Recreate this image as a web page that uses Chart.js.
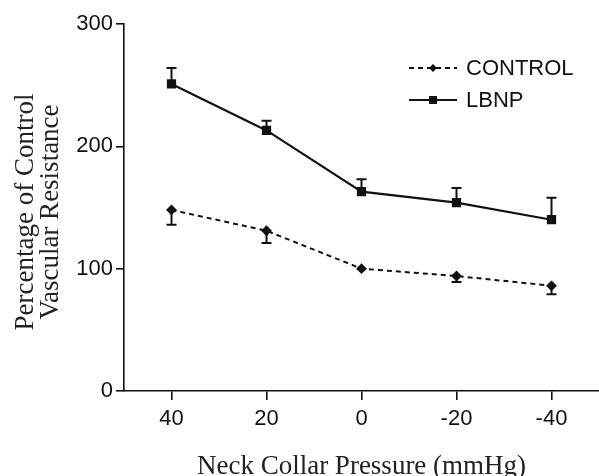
<!DOCTYPE html>
<html>
<head>
<meta charset="utf-8">
<script src="https://cdn.jsdelivr.net/npm/chart.js@4"></script>
<style>
  body { margin: 0; background: #fff; }
  #wrap { width: 599px; height: 476px; }
</style>
</head>
<body>
<div id="wrap"><canvas id="chart" width="599" height="476"></canvas></div>
<script>
// data
const pressures = ['40', '20', '0', '-20', '-40'];
const controlVals = [148, 131, 100, 94, 86];
const controlErr = [12, 10, 0, 5, 7];     // drawn downward
const lbnpVals = [251, 213, 163, 154, 140];
const lbnpErr = [13, 8, 10, 12, 18];      // drawn upward
const yTicks = [0, 100, 200, 300];
const yTitle = ['Percentage of Control', 'Vascular Resistance'];
const xTitle = 'Neck Collar Pressure (mmHg)';

const tickFont = { family: 'Liberation Sans, Arial, sans-serif', size: 22 };

// error bars (one-sided, like the original)
const errorBars = {
  id: 'errorBars',
  afterDatasetsDraw(chart) {
    const ctx = chart.ctx;
    const y = chart.scales.y;
    chart.data.datasets.forEach((ds, i) => {
      const meta = chart.getDatasetMeta(i);
      meta.data.forEach((pt, j) => {
        const e = ds.err[j];
        if (!e) return;
        const end = ds.errDir > 0 ? ds.data[j] + e : ds.data[j] - e;
        const py = y.getPixelForValue(end);
        ctx.save();
        ctx.strokeStyle = '#111';
        ctx.lineWidth = 2;
        ctx.beginPath();
        ctx.moveTo(pt.x, pt.y);
        ctx.lineTo(pt.x, py);
        ctx.moveTo(pt.x - 5, py);
        ctx.lineTo(pt.x + 5, py);
        ctx.stroke();
        ctx.restore();
      });
    });
  }
};

// legend inside the plot, top right
const legendBox = {
  id: 'legendBox',
  afterDraw(chart) {
    const ctx = chart.ctx;
    const x0 = 409, x1 = 457, tx = 466;
    const rows = [68, 100];
    chart.data.datasets.forEach((ds, i) => {
      const ly = rows[i];
      ctx.save();
      ctx.strokeStyle = '#111';
      ctx.lineWidth = ds.borderWidth;
      ctx.setLineDash(ds.borderDash || []);
      ctx.beginPath();
      ctx.moveTo(x0, ly);
      ctx.lineTo(x1, ly);
      ctx.stroke();
      ctx.setLineDash([]);
      ctx.fillStyle = '#111';
      const cx = (x0 + x1) / 2;
      if (ds.pointStyle === 'rect') {
        ctx.fillRect(cx - 4, ly - 4, 8, 8);
      } else {
        ctx.beginPath();
        ctx.moveTo(cx, ly - 4); ctx.lineTo(cx + 4, ly); ctx.lineTo(cx, ly + 4); ctx.lineTo(cx - 4, ly);
        ctx.closePath(); ctx.fill();
      }
      ctx.font = '22px "Liberation Sans", Arial, sans-serif';
      ctx.textBaseline = 'middle';
      ctx.fillText(ds.label, tx, ly + 1);
      ctx.restore();
    });
  }
};

// two-line rotated y title
const yTitleText = {
  id: 'yTitleText',
  afterDraw(chart) {
    const ctx = chart.ctx;
    ctx.save();
    ctx.translate(0, 212);
    ctx.rotate(-Math.PI / 2);
    ctx.font = '27px "Liberation Serif", "Times New Roman", serif';
    ctx.fillStyle = '#222';
    ctx.textAlign = 'center';
    ctx.textBaseline = 'alphabetic';
    ctx.fillText(yTitle[0], 0, 33);
    ctx.fillText(yTitle[1], 0, 58);
    ctx.restore();
  }
};

new Chart(document.getElementById('chart'), {
  type: 'line',
  data: {
    labels: pressures,
    datasets: [
      {
        label: 'CONTROL',
        data: controlVals,
        err: controlErr,
        errDir: -1,
        borderColor: '#111',
        backgroundColor: '#111',
        borderWidth: 2,
        borderDash: [5, 4],
        pointStyle: 'rectRot',
        pointRadius: 4,
        tension: 0
      },
      {
        label: 'LBNP',
        data: lbnpVals,
        err: lbnpErr,
        errDir: 1,
        borderColor: '#111',
        backgroundColor: '#111',
        borderWidth: 2.2,
        pointStyle: 'rect',
        pointRadius: 5,
        tension: 0
      }
    ]
  },
  options: {
    responsive: false,
    devicePixelRatio: 1,
    animation: false,
    layout: { autoPadding: false, padding: { top: 24, right: 0, bottom: 0, left: 0 } },
    plugins: { legend: { display: false }, tooltip: { enabled: false } },
    scales: {
      x: {
        type: 'category',
        offset: true,
        border: { display: true, color: '#111', width: 1.6 },
        grid: { display: true, drawOnChartArea: false, drawTicks: true, tickLength: 9, color: '#111', lineWidth: 1.6, offset: false },
        ticks: { color: '#111', font: tickFont, padding: 6, maxRotation: 0 },
        title: {
          display: true, text: xTitle, color: '#222',
          font: { family: 'Liberation Serif, "Times New Roman", serif', size: 27, lineHeight: 0.7 },
          padding: { top: 0, bottom: 0 }
        },
        afterFit(scale) { scale.height = 85; }
      },
      y: {
        min: 0, max: 300,
        afterBuildTicks(scale) { scale.ticks = yTicks.map(v => ({ value: v })); },
        border: { display: true, color: '#111', width: 1.6 },
        grid: { display: true, drawOnChartArea: false, drawTicks: true, tickLength: 8, color: '#111', lineWidth: 1.6 },
        ticks: { color: '#111', font: tickFont, padding: 3 },
        afterFit(scale) { scale.width = 124; }
      }
    }
  },
  plugins: [errorBars, legendBox, yTitleText]
});
</script>
</body>
</html>
